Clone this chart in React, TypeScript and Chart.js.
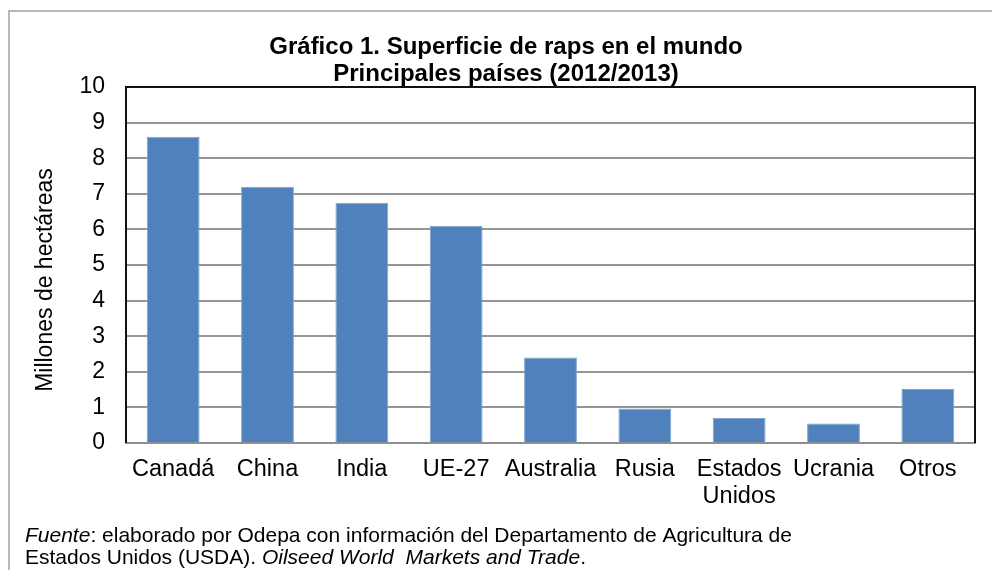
import React, { useEffect, useRef } from 'react';
import { Chart, registerables } from 'chart.js';

Chart.register(...registerables);

const categories: (string | string[])[] = ['Canadá', 'China', 'India', 'UE-27', 'Australia', 'Rusia', ['Estados', 'Unidos'], 'Ucrania', 'Otros'];
const values: number[] = [8.6, 7.2, 6.75, 6.1, 2.4, 0.97, 0.7, 0.55, 1.52];
const yMin = 0;
const yMax = 10;
const yStep = 1;
const titleLines: string[] = ['Gráfico 1. Superficie de raps en el mundo', 'Principales países (2012/2013)'];
const yAxisLabel = 'Millones de hectáreas';
const footLine1: [string, boolean][] = [['Fuente', true], [': elaborado por Odepa con información del Departamento de Agricultura de', false]];
const footLine2: [string, boolean][] = [['Estados Unidos (USDA). ', false], ['Oilseed World  Markets and Trade', true], ['.', false]];

const FONT = '"Liberation Sans", Arial, sans-serif';

const decorPlugin = {
  id: 'decor',
  beforeDraw(chart: any) {
    const ctx = chart.ctx;
    ctx.save();
    ctx.fillStyle = '#ffffff';
    ctx.fillRect(0, 0, chart.width, chart.height);
    ctx.restore();
  },
  afterDraw(chart: any) {
    const ctx = chart.ctx;
    const a = chart.chartArea;
    ctx.save();
    // outer frame
    ctx.strokeStyle = '#a3a3a3';
    ctx.lineWidth = 1.5;
    ctx.beginPath();
    ctx.moveTo(9, chart.height);
    ctx.lineTo(9, 11);
    ctx.lineTo(chart.width, 11);
    ctx.stroke();
    // plot frame top / right / left
    ctx.strokeStyle = '#111111';
    ctx.lineWidth = 2;
    ctx.beginPath();
    ctx.moveTo(a.left, a.bottom);
    ctx.lineTo(a.left, a.top);
    ctx.lineTo(a.right, a.top);
    ctx.lineTo(a.right, a.bottom);
    ctx.stroke();
    // title
    ctx.fillStyle = '#000000';
    ctx.textAlign = 'center';
    ctx.textBaseline = 'middle';
    ctx.font = `bold 24px ${FONT}`;
    ctx.fillText(titleLines[0], 506, 47);
    ctx.fillText(titleLines[1], 506, 74);
    // y axis label
    ctx.save();
    ctx.translate(46, 280);
    ctx.rotate(-Math.PI / 2);
    ctx.font = `23px ${FONT}`;
    ctx.fillText(yAxisLabel, 0, 0);
    ctx.restore();
    // footnote
    ctx.textAlign = 'left';
    ctx.textBaseline = 'alphabetic';
    const drawLine = (segs: [string, boolean][], x: number, y: number) => {
      let cx = x;
      for (const [t, it] of segs) {
        ctx.font = `${it ? 'italic ' : ''}21px ${FONT}`;
        ctx.fillText(t, cx, y);
        cx += ctx.measureText(t).width;
      }
    };
    drawLine(footLine1, 25, 542);
    drawLine(footLine2, 25, 564);
    ctx.restore();
  },
};

export default function App() {
  const ref = useRef<HTMLCanvasElement | null>(null);
  useEffect(() => {
    if (!ref.current) return;
    const chart = new Chart(ref.current, {
      type: 'bar',
      data: {
        labels: categories as any,
        datasets: [
          {
            data: values,
            backgroundColor: '#4F81BD',
            borderColor: '#7FA2CF',
            borderWidth: 1,
            barPercentage: 0.56,
            categoryPercentage: 1,
          },
        ],
      },
      options: {
        animation: false,
        responsive: false,
        devicePixelRatio: 1,
        layout: { padding: { left: 26, top: 87, right: 17, bottom: 37 } },
        plugins: {
          legend: { display: false },
          title: { display: false },
          tooltip: { enabled: false },
        },
        scales: {
          x: {
            grid: { display: false, drawTicks: false },
            border: { color: '#8f8f8f', width: 2 },
            ticks: {
              color: '#000000',
              font: { family: FONT, size: 23.5, lineHeight: 1.15 },
              padding: 13,
              maxRotation: 0,
              autoSkip: false,
            },
            afterFit: (s: any) => {
              s.height = 90;
            },
          },
          y: {
            min: yMin,
            max: yMax,
            grid: { color: '#959595', lineWidth: 2, drawTicks: false },
            border: { display: false },
            ticks: {
              stepSize: yStep,
              color: '#000000',
              font: { family: FONT, size: 23 },
              padding: 21,
            },
            afterFit: (s: any) => {
              s.width = 100;
            },
          },
        },
      },
      plugins: [decorPlugin],
    });
    return () => chart.destroy();
  }, []);
  return (
    <div style={{ position: 'absolute', left: 0, top: 0, width: 992, height: 570 }}>
      <canvas ref={ref} width={992} height={570} style={{ display: 'block' }} />
    </div>
  );
}
